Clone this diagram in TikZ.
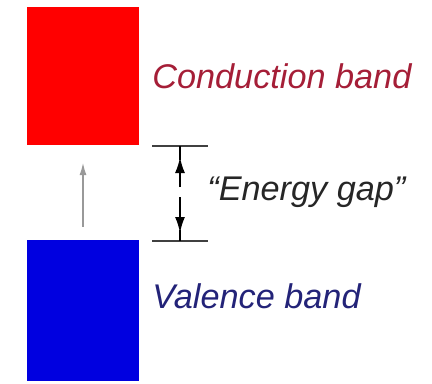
\documentclass[tikz,border=0pt]{standalone}
\usepackage{fontspec}
\setmainfont{Liberation Sans}
\usepackage{xcolor}
\usetikzlibrary{arrows.meta, positioning}

\definecolor{condred}{RGB}{165,30,55}
\definecolor{valblue}{RGB}{35,35,120}

\begin{document}
\begin{tikzpicture}[x=0.02cm, y=-0.02cm,
        band/.style={rectangle, minimum width=2.24cm, inner sep=0pt, draw=none},
        lbl/.style={font=\fontsize{19.5}{22}\selectfont\itshape, anchor=base west, inner sep=0pt},
        lvl/.style={line width=1.1pt, draw=black!75},
        dim/.style={line width=1.1pt, -{Latex[length=0.32cm, width=0.2cm]}},
        jump/.style={line width=0.7pt, draw=black!40, -{Latex[length=0.24cm, width=0.14cm]}}
    ]
        \useasboundingbox (0,0) rectangle (432,383);

        % Bands
        \node[band, fill=red, minimum height=2.76cm] (cond) at (83,76) {};
        \node[band, fill=blue!88!black, minimum height=2.82cm] (val) at (83,310.5) {};

        % Labels
        \node[lbl, text=condred] (condlbl) at (152,88) {Conduction band};
        \node[lbl, text=valblue] (vallbl) at (152,308) {Valence band};
        \node[lbl, text=black!85] (gaplbl) at (207,200) {``Energy gap''};

        % Gap levels
        \coordinate (gtop) at (180,146);
        \coordinate (gbot) at (180,241);
        \draw[lvl] (152,146) -- (208,146);
        \draw[lvl] (152,241) -- (208,241);

        % Connectors
        \draw[dim] (180,187) -- (180,157);
        \draw[line width=1.1pt] (180,160) -- (gtop);
        \draw[dim] (180,197) -- (180,233);
        \draw[line width=1.1pt] (180,230) -- (gbot);

        \draw[jump] (val.north) ++(0,-13) -- (83,163);

    \end{tikzpicture}
\end{document}
